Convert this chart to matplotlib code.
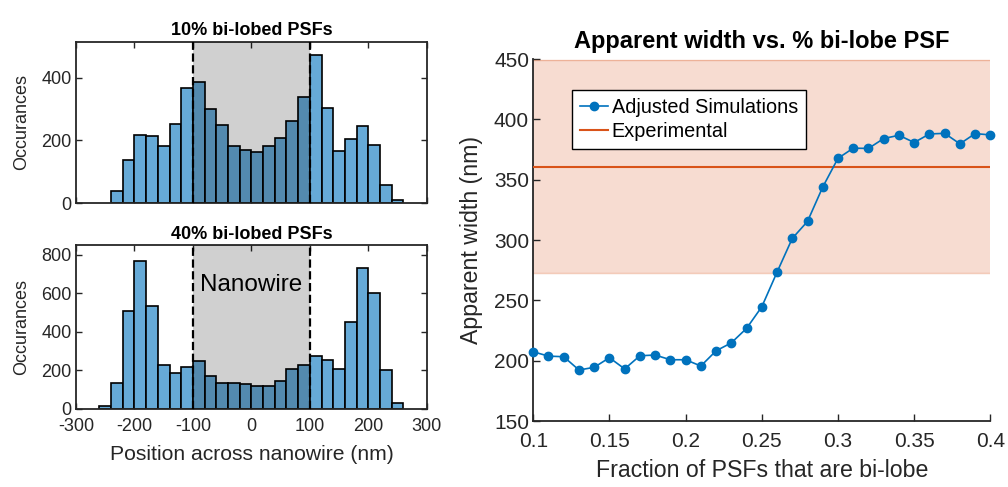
import matplotlib.pyplot as plt
import numpy as np

plt.rcParams['font.family'] = ['Liberation Sans', 'DejaVu Sans']
plt.rcParams['axes.unicode_minus'] = False

# histogram counts, 20 nm bins
bin_width = 20
top_start = -240
top_counts = [40, 138, 219, 215, 183, 252, 369, 387, 300, 248, 183, 168, 163,
              181, 207, 263, 340, 472, 303, 167, 204, 245, 186, 58, 11]
bot_start = -260
bot_counts = [14, 131, 507, 769, 535, 225, 183, 214, 249, 167, 131, 131, 126,
              115, 115, 141, 206, 228, 274, 251, 208, 452, 729, 603, 199, 31]
wire_edges = [-100, 100]

# apparent width vs fraction bi-lobe
frac = [0.10, 0.11, 0.12, 0.13, 0.14, 0.15, 0.16, 0.17, 0.18, 0.19, 0.20,
        0.21, 0.22, 0.23, 0.24, 0.25, 0.26, 0.27, 0.28, 0.29, 0.30,
        0.31, 0.32, 0.33, 0.34, 0.35, 0.36, 0.37, 0.38, 0.39, 0.40]
app_width = [207.4, 203.8, 203.3, 192.3, 194.5, 202.5, 193.2, 204.1, 204.7,
             200.8, 200.8, 195.6, 208.2, 214.8, 226.8, 244.7, 273.4, 301.4,
             315.5, 344.0, 367.8, 376.2, 376.0, 384.2, 386.9, 380.9, 388.0,
             388.5, 379.8, 388.3, 387.2]
exp_mean = 361
exp_low = 273
exp_high = 449

bar_col = (0.4, 0.667, 0.843)
txt_col = (0.15, 0.15, 0.15)
blue = '#0072BD'
orange = '#D95319'


def draw_hist(ax, start, counts, ymax, yticks, title):
    edges = start + bin_width * np.arange(len(counts))
    ax.bar(edges, counts, width=bin_width, align='edge', color=bar_col,
           edgecolor='k', linewidth=1.2, zorder=2)
    ax.axvspan(wire_edges[0], wire_edges[1], color='k', alpha=0.185,
               linewidth=0, zorder=3)
    for xe in wire_edges:
        ax.plot([xe, xe], [0, ymax], 'k--', linewidth=1.6, zorder=4)
    ax.set_xlim(-300, 300)
    ax.set_ylim(0, ymax)
    ax.set_xticks(np.arange(-300, 301, 100))
    ax.set_yticks(yticks)
    ax.tick_params(direction='in', top=True, right=True, labelsize=13,
                   colors=txt_col, length=4, width=1, pad=3)
    ax.tick_params(axis='x', pad=7)
    for s in ax.spines.values():
        s.set_linewidth(1.3)
        s.set_color(txt_col)
    ax.set_ylabel('Occurances', fontsize=13, color=txt_col, labelpad=8)
    ax.set_title(title, fontsize=13, fontweight='bold', pad=5)


fig = plt.figure(figsize=(10.08, 4.87), dpi=100)

ax1 = fig.add_axes([0.0754, 0.583, 0.348, 0.331])
draw_hist(ax1, top_start, top_counts, 515, [0, 200, 400], '10% bi-lobed PSFs')
ax1.tick_params(labelbottom=False)

ax2 = fig.add_axes([0.0754, 0.161, 0.348, 0.335])
draw_hist(ax2, bot_start, bot_counts, 848, [0, 200, 400, 600, 800],
          '40% bi-lobed PSFs')
ax2.text(0, 640, 'Nanowire', ha='center', va='center', fontsize=17.5,
         color='k', zorder=5)
ax2.set_xlabel('Position across nanowire (nm)', fontsize=15.2,
               color=txt_col, labelpad=7)

ax3 = fig.add_axes([0.529, 0.1355, 0.4535, 0.743])
ax3.fill_between([0.1, 0.4], exp_low, exp_high, color=orange, alpha=0.2,
                 linewidth=0)
ax3.plot([0.1, 0.4], [exp_low, exp_low], color=orange, alpha=0.3, linewidth=1)
ax3.plot([0.1, 0.4], [exp_high, exp_high], color=orange, alpha=0.3, linewidth=1)
ax3.plot(frac, app_width, '-o', color=blue, markersize=6, linewidth=1.2,
         label='Adjusted Simulations', zorder=4, clip_on=False)
ax3.plot([0.1, 0.4], [exp_mean, exp_mean], color=orange, linewidth=1.5,
         label='Experimental', zorder=3)
ax3.set_xlim(0.1, 0.4)
ax3.set_ylim(150, 450)
ax3.set_xticks([0.1, 0.15, 0.2, 0.25, 0.3, 0.35, 0.4])
ax3.set_xticklabels(['0.1', '0.15', '0.2', '0.25', '0.3', '0.35', '0.4'])
ax3.set_yticks(np.arange(150, 451, 50))
ax3.spines['top'].set_visible(False)
ax3.spines['right'].set_visible(False)
for s in ['left', 'bottom']:
    ax3.spines[s].set_linewidth(1.3)
    ax3.spines[s].set_color(txt_col)
ax3.tick_params(direction='in', labelsize=15, colors=txt_col, length=5,
                width=1, pad=3)
ax3.tick_params(axis='x', pad=8)
ax3.set_xlabel('Fraction of PSFs that are bi-lobe', fontsize=16.7,
               color=txt_col, labelpad=6)
ax3.set_ylabel('Apparent width (nm)', fontsize=16.7, color=txt_col,
               labelpad=8)
ax3.set_title('Apparent width vs. % bi-lobe PSF', fontsize=17,
              fontweight='bold', pad=8)
leg = ax3.legend(loc='upper left', bbox_to_anchor=(0.085, 0.914),
                 borderaxespad=0, fontsize=14.3, frameon=True, fancybox=False,
                 handlelength=1.4, handletextpad=0.2, borderpad=0.4,
                 labelspacing=0.25)
leg.get_frame().set_edgecolor('k')
leg.get_frame().set_linewidth(1.0)
leg.get_frame().set_alpha(1)

fig.savefig('out.png', dpi=100)
